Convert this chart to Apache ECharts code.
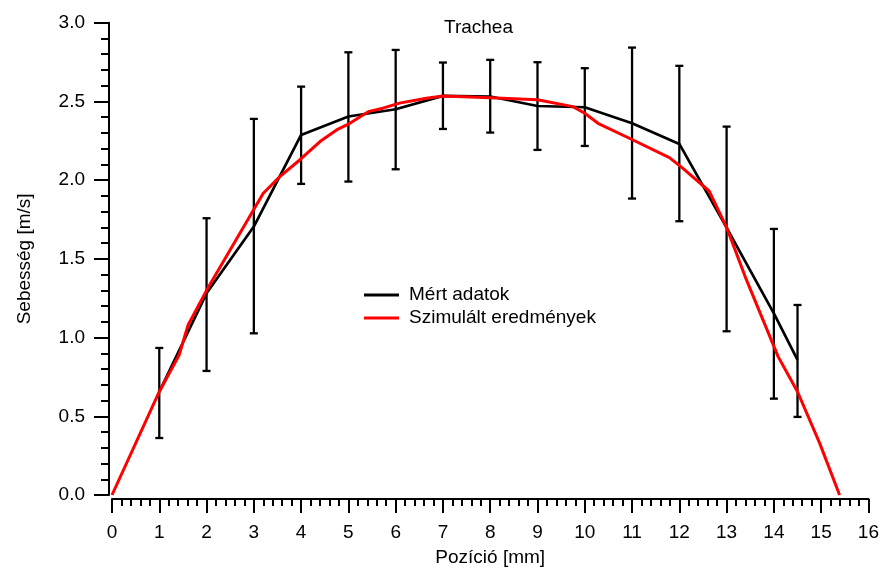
<!DOCTYPE html>
<html>
<head>
<meta charset="utf-8">
<title>Trachea</title>
<script src="https://cdn.jsdelivr.net/npm/echarts@6/dist/echarts.min.js"></script>
<style>
  html, body { margin: 0; padding: 0; background: #fff; }
  #chart { width: 882px; height: 572px; }
</style>
</head>
<body>
<div id="chart"></div>
<script>
// Measured velocity profile (mean and error-bar limits) across the trachea
const measuredX    = [1, 2, 3, 4, 5, 6, 7, 8, 9, 10, 11, 12, 13, 14, 14.5];
const measuredMean = [0.656, 1.281, 1.705, 2.287, 2.404, 2.450, 2.535, 2.531, 2.471, 2.463, 2.361, 2.230, 1.698, 1.154, 0.858];
const measuredLow  = [0.362, 0.788, 1.027, 1.976, 1.991, 2.069, 2.325, 2.302, 2.192, 2.217, 1.883, 1.739, 1.040, 0.612, 0.496];
const measuredHigh = [0.934, 1.758, 2.389, 2.594, 2.812, 2.827, 2.747, 2.764, 2.749, 2.711, 2.842, 2.726, 2.340, 1.690, 1.207];

// Simulated velocity profile
const simX = [0, 1, 1.42, 1.61, 2, 3.2, 3.55, 3.97, 4.40, 4.75, 5.03, 5.42, 5.73, 6.08, 6.65, 7.0,
              8.0, 9.0, 9.75, 10.0, 10.28, 11.02, 11.79, 12.07, 12.63, 13.0, 13.42, 14.09, 14.5, 14.97, 15.39];
const simY = [0, 0.656, 0.889, 1.08, 1.30, 1.917, 2.022, 2.128, 2.245, 2.319, 2.361, 2.435, 2.457, 2.489, 2.520, 2.535,
              2.524, 2.51, 2.467, 2.425, 2.361, 2.255, 2.143, 2.076, 1.931, 1.70, 1.366, 0.879, 0.656, 0.328, 0.0];

// Axis ticks
const xTicks = { min: 0, max: 16, step: 1 };
const yTicks = { min: 0, max: 3, step: 0.5 };

const seriesNames = ['Mért adatok', 'Szimulált eredmények'];

const FONT = '"Liberation Sans", Arial, sans-serif';

const measuredLine = measuredX.map((x, i) => [x, measuredMean[i]]);
const errorBars = measuredX.map((x, i) => [x, measuredLow[i], measuredHigh[i]]);
const simLine = simX.map((x, i) => [x, simY[i]]);

const chart = echarts.init(document.getElementById('chart'), null, { renderer: 'canvas' });

chart.setOption({
  animation: false,
  backgroundColor: '#ffffff',
  textStyle: { fontFamily: FONT, color: '#000' },
  title: {
    text: 'Trachea',
    left: 444,
    top: 18,
    padding: 0,
    textStyle: { fontFamily: FONT, fontSize: 19, fontWeight: 'normal', color: '#000' }
  },
  legend: {
    data: seriesNames,
    orient: 'vertical',
    left: 364,
    top: 285,
    padding: 0,
    itemWidth: 35,
    itemHeight: 3,
    itemGap: 3,
    icon: 'rect',
    textStyle: { fontFamily: FONT, fontSize: 19, color: '#000', lineHeight: 20, padding: [0, 0, 0, 5] }
  },
  grid: { left: 112, right: 13, top: 22.7, bottom: 77, containLabel: false },
  xAxis: {
    type: 'value',
    min: xTicks.min,
    max: xTicks.max,
    interval: xTicks.step,
    offset: 4,
    name: 'Pozíció [mm]',
    nameLocation: 'middle',
    nameGap: 49,
    nameTextStyle: { fontFamily: FONT, fontSize: 19, color: '#000' },
    axisLine: { show: true, onZero: false, lineStyle: { color: '#000', width: 2 } },
    axisTick: { show: true, length: 14, lineStyle: { color: '#000', width: 2 } },
    minorTick: { show: true, splitNumber: 5, length: 7, lineStyle: { color: '#000', width: 2 } },
    axisLabel: { fontFamily: FONT, fontSize: 19, color: '#000', margin: 24 },
    splitLine: { show: false }
  },
  yAxis: {
    type: 'value',
    min: yTicks.min,
    max: yTicks.max,
    interval: yTicks.step,
    offset: 3,
    name: 'Sebesség [m/s]',
    nameLocation: 'middle',
    nameGap: 75,
    nameTextStyle: { fontFamily: FONT, fontSize: 19, color: '#000' },
    axisLine: { show: true, onZero: false, lineStyle: { color: '#000', width: 2 } },
    axisTick: { show: true, length: 15, lineStyle: { color: '#000', width: 2 } },
    minorTick: { show: true, splitNumber: 5, length: 8, lineStyle: { color: '#000', width: 2 } },
    axisLabel: {
      fontFamily: FONT, fontSize: 19, color: '#000', margin: 24,
      formatter: v => v.toFixed(1)
    },
    splitLine: { show: false }
  },
  series: [
    {
      name: seriesNames[0],
      type: 'line',
      data: measuredLine,
      symbol: 'none',
      color: '#000',
      lineStyle: { color: '#000', width: 2.7 },
      z: 3
    },
    {
      name: 'errorbars',
      type: 'custom',
      data: errorBars,
      z: 2,
      renderItem: function (params, api) {
        const x = api.value(0);
        const lo = api.coord([x, api.value(1)]);
        const hi = api.coord([x, api.value(2)]);
        const cap = 4;
        const style = { stroke: '#000', lineWidth: 2.3 };
        return {
          type: 'group',
          children: [
            { type: 'line', shape: { x1: lo[0], y1: lo[1], x2: hi[0], y2: hi[1] }, style: style },
            { type: 'line', shape: { x1: hi[0] - cap, y1: hi[1], x2: hi[0] + cap, y2: hi[1] }, style: style },
            { type: 'line', shape: { x1: lo[0] - cap, y1: lo[1], x2: lo[0] + cap, y2: lo[1] }, style: style }
          ]
        };
      }
    },
    {
      name: seriesNames[1],
      type: 'line',
      data: simLine,
      symbol: 'none',
      color: '#ff0000',
      lineStyle: { color: '#ff0000', width: 3 },
      z: 4
    }
  ]
});
</script>
</body>
</html>
